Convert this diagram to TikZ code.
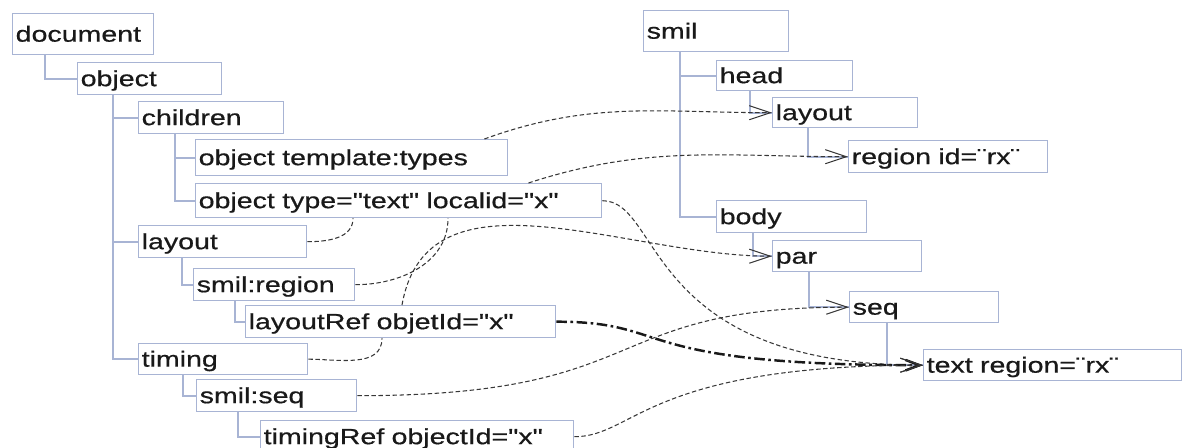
\documentclass[tikz,border=0pt]{standalone}
\usepackage{fontspec}
\usetikzlibrary{arrows.meta}

\newfontfamily\boxFont[FakeStretch=1.3, FakeBold=0.6]{Liberation Sans}
\newlength\pxlen
\setlength\pxlen{0.02cm}
\definecolor{boxLine}{RGB}{168,180,212}
\definecolor{linkCol}{RGB}{55,55,55}
\definecolor{textCol}{RGB}{25,25,25}

\begin{document}
\begin{tikzpicture}[
		x=0.02cm, y=0.02cm,
		% Estilo de las cajas: ancho interior como argumento
		myBox/.style={draw=boxLine, line width=0.8pt, fill=white, anchor=north west,
			text width=#1\pxlen, inner xsep=3\pxlen, inner ysep=0pt,
			minimum height=32\pxlen, align=left, text=textCol,
			font=\boxFont\fontsize{12.5}{14}\selectfont,
			text height=9pt, text depth=0.5pt},
		myTree/.style={draw=boxLine, line width=1pt},
		myLink/.style={draw=linkCol, line width=0.6pt, dash pattern=on 2.5pt off 1.5pt},
		myTip/.style={-{Straight Barb[length=12pt,width=8pt]}},
		myRef/.style={draw=black!90, line width=1.4pt,
			dash pattern=on 6pt off 2pt on 1.5pt off 2pt,
			-{Straight Barb[length=8pt,width=6pt]}}
	]

	\useasboundingbox (0,0) rectangle (1182,-448);

	% --- 1. Arbol del documento (izquierda) ---
	\node[myBox=135, minimum height=41\pxlen] (doc) at (12,-13) {document};
	\node[myBox=138] (obj)      at (77,-62)   {object};
	\node[myBox=139] (children) at (138,-101) {children};
	\node[myBox=306, minimum height=36\pxlen] (tmpl) at (195,-139) {object template:types};
	\node[myBox=400, minimum height=34\pxlen] (otext) at (195,-183) {object type="text" localid="x"};
	\node[myBox=162] (layout)   at (138,-225) {layout};
	\node[myBox=155] (smilreg)  at (193,-268) {smil:region};
	\node[myBox=304] (layref)   at (245,-305) {layoutRef objetId="x"};
	\node[myBox=163, minimum height=31\pxlen] (timing) at (138,-343) {timing};
	\node[myBox=154] (smilseq)  at (196,-379) {smil:seq};
	\node[myBox=307] (timref)   at (260,-420) {timingRef objectId="x"};

	% --- 2. Arbol SMIL (derecha) ---
	\node[myBox=139, minimum height=41\pxlen] (smil) at (643,-10) {smil};
	\node[myBox=130, minimum height=30\pxlen] (head) at (716,-60) {head};
	\node[myBox=139, minimum height=30\pxlen] (rlayout) at (772,-97) {layout};
	\node[myBox=193] (region)   at (848,-140) {region id=¨rx¨};
	\node[myBox=144] (body)     at (716,-200) {body};
	\node[myBox=143, minimum height=31\pxlen] (par) at (772,-240) {par};
	\node[myBox=143, minimum height=31\pxlen] (seq) at (849,-291) {seq};
	\node[myBox=252, minimum height=31\pxlen] (textreg) at (923,-349) {text region=¨rx¨};

	% --- 3. Lineas del arbol ---
	\draw[myTree] ([xshift=33\pxlen]doc.south west) |- (obj.west);
	\draw[myTree] ([xshift=36\pxlen]obj.south west) |- (children.west);
	\draw[myTree] ([xshift=36\pxlen]obj.south west) |- (layout.west);
	\draw[myTree] ([xshift=36\pxlen]obj.south west) |- (timing.west);
	\draw[myTree] ([xshift=37\pxlen]children.south west) |- (tmpl.west);
	\draw[myTree] ([xshift=37\pxlen]children.south west) |- (otext.west);
	\draw[myTree] ([xshift=44\pxlen]layout.south west) |- (smilreg.west);
	\draw[myTree] ([xshift=42\pxlen]smilreg.south west) |- (layref.west);
	\draw[myTree] ([xshift=45\pxlen]timing.south west) |- (smilseq.west);
	\draw[myTree] ([xshift=42\pxlen]smilseq.south west) |- (timref.west);

	\draw[myTree] ([xshift=37\pxlen]smil.south west) |- (head.west);
	\draw[myTree] ([xshift=37\pxlen]smil.south west) |- (body.west);
	\draw[myTree] ([xshift=34\pxlen]head.south west) |- (rlayout.west);
	\draw[myTree] ([xshift=36\pxlen]rlayout.south west) |- (region.west);
	\draw[myTree] ([xshift=37\pxlen]body.south west) |- (par.west);
	\draw[myTree] ([xshift=37\pxlen]par.south west) |- (seq.west);
	\draw[myTree] ([xshift=38\pxlen]seq.south west) |- (textreg.west);

	% --- 4. Referencias entre arboles ---
	\draw[myLink, myTip] ([xshift=-24\pxlen]tmpl.north east) to[out=20, in=180] (rlayout.west);
	\draw[myLink, myTip] ([xshift=-74\pxlen]otext.north east) to[out=18, in=180] (region.west);
	\draw[myLink, myTip] (otext.east) to[out=0, in=180, out distance=60\pxlen, in distance=280\pxlen] (textreg.west);
	\draw[myLink] (layout.east) to[out=0, in=-90] ([xshift=158\pxlen]otext.south west);
	\draw[myLink] (smilreg.east) to[out=0, in=-90] ([xshift=253\pxlen]otext.south west);
	\draw[myLink, myTip] ([xshift=157\pxlen]layref.north west) to[out=80, in=180] (par.west);
	\draw[myRef] (layref.east) to[out=0, in=180, out distance=120\pxlen, in distance=300\pxlen] (textreg.west);
	\draw[myLink] (timing.east) to[out=0, in=-90] ([xshift=137\pxlen]layref.south west);
	\draw[myLink, myTip] (smilseq.east) to[out=0, in=180, out distance=300\pxlen, in distance=253\pxlen] (seq.west);
	\draw[myLink, myTip] (timref.east) to[out=0, in=180, out distance=60\pxlen, in distance=276\pxlen] (textreg.west);

\end{tikzpicture}
\end{document}
